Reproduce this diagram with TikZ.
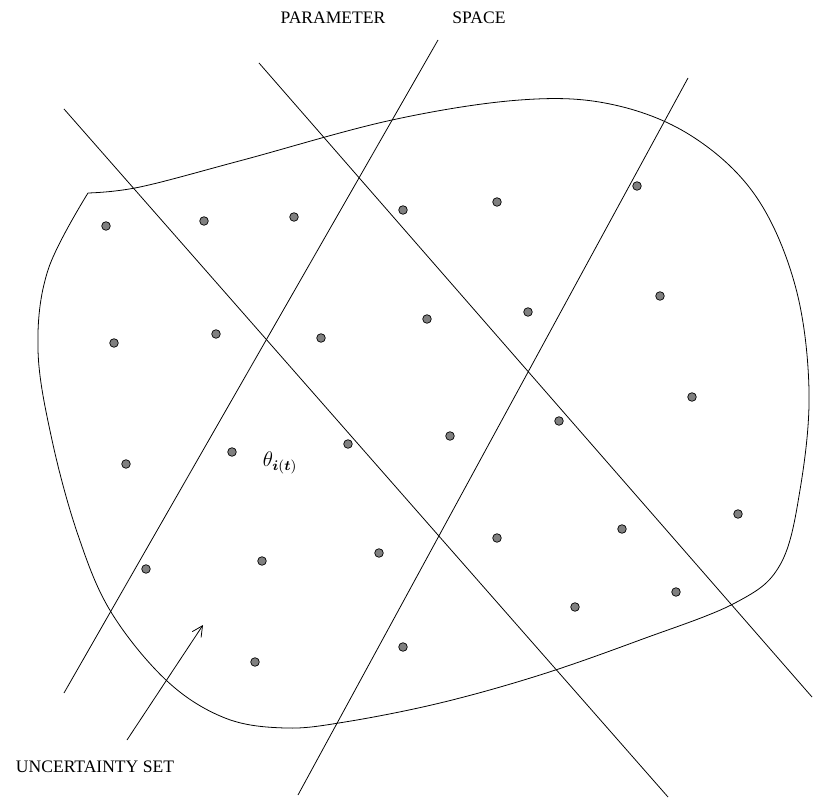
\documentclass[tikz,border=0pt]{standalone}
\usepackage{amsmath}
\usepackage{fontspec}
\setmainfont{Liberation Serif}
\usetikzlibrary{arrows.meta}
\definecolor{dotGray}{RGB}{128,128,128}

\begin{document}
\begin{tikzpicture}[x=0.02cm, y=-0.02cm, font=\normalsize,
  cut/.style={black, line width=0.45pt},
  sample/.style={fill=dotGray, draw=black, line width=0.4pt}]
\useasboundingbox (0,0) rectangle (822,800);
%% ---- Titles ----
\node (param) at (333,18) {PARAMETER};
\node (space) at (479,18) {SPACE};
\node (uset)  at (95,767) {UNCERTAINTY SET};
%% ---- Uncertainty set ----
\draw[line width=0.45pt] plot[smooth, tension=0.6] coordinates {
  (88,193) (140,187) (243,160) (392,120) (520,100) (610,104) (690,135)
  (755,195) (795,285) (809,390) (800,490) (780,565) (735,603)
  (640,640) (540,675) (440,703) (345,722) (285,728) (225,718)
  (167,681) (111,612) (78,535) (52,440) (38,350) (48,270) (88,193)};
%% ---- Cutting lines ----
\draw[cut] (64,109)  -- (668,797);
\draw[cut] (259,63)  -- (812,697);
\draw[cut] (64,693)  -- (438,40);
\draw[cut] (298,795) -- (688,78);
%% ---- Sample points ----
\foreach \px/\py in {106/226,204/221,294/217,403/210,497/202,637/186,
                     114/343,216/334,321/338,427/319,528/312,660/296,
                     126/464,232/452,348/444,450/436,559/421,692/397,
                     146/569,262/561,379/553,497/538,622/529,738/514,
                     255/662,403/647,575/607,676/592}
  \filldraw[sample] (\px,\py) circle (4.3);
\node[font=\large] (theta) at (280,463) {$\theta_{\boldsymbol{i}(\boldsymbol{t})}$};
%% ---- Pointer ----
\coordinate (tail) at (127,740);
\coordinate (tip)  at (203,625);
\draw[line width=0.45pt, -{Straight Barb[length=6pt, width=6pt]}] (tail) -- (tip);
\end{tikzpicture}
\end{document}
